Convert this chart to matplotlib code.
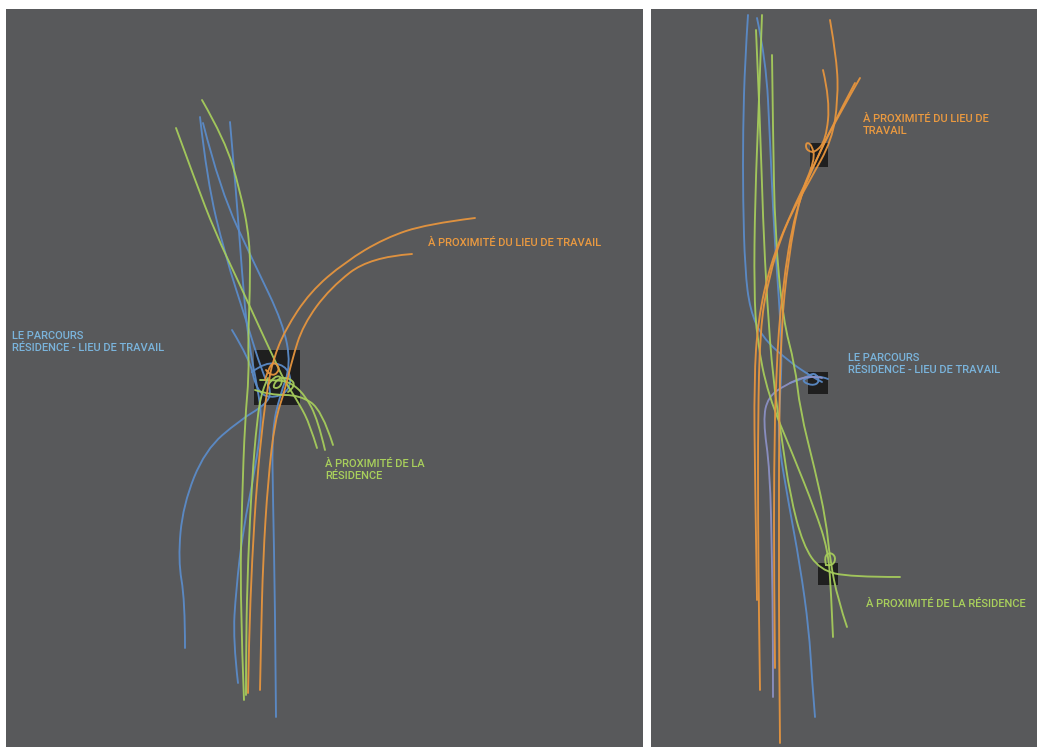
import matplotlib
matplotlib.use("Agg")
import matplotlib.pyplot as plt
from matplotlib.path import Path
from matplotlib.patches import PathPatch, Rectangle
import numpy as np

# colours
BG = "#58595b"
SQUARE = "#1f1f1f"
BLUE = "#5b8bc8"
PURPLE = "#8b90c4"
GREEN = "#a6cc5c"
ORANGE = "#e6953e"
TXT_BLUE = "#7ab4dc"
TXT_GREEN = "#a9d05c"
TXT_ORANGE = "#eb9a40"

# ---- left panel trajectories (image pixel coordinates) ----
left_blue = [
    [(200, 117), (207, 180), (225, 255), (247, 323), (262, 372), (272, 392), (265, 405),
     (240, 420), (205, 450), (183, 505), (178, 560), (185, 600), (185, 648)],
    [(230, 122), (236, 190), (242, 273), (248, 340), (258, 390), (262, 420), (255, 470),
     (243, 530), (236, 590), (233, 640), (238, 683)],
    [(203, 123), (220, 190), (255, 265), (283, 323), (291, 365), (280, 395), (272, 430),
     (273, 500), (275, 600), (276, 717)],
    [(232, 330), (250, 360), (255, 385), (265, 398), (285, 395), (292, 380), (285, 365),
     (265, 362), (252, 372)],
]
left_green = [
    [(176, 128), (195, 180), (215, 232), (240, 285), (262, 333), (277, 365), (284, 380),
     (300, 405), (310, 425), (317, 448)],
    [(202, 100), (225, 140), (240, 190), (250, 240), (250, 290), (248, 340), (249, 375),
     (245, 420), (242, 500), (240, 600), (244, 700)],
    [(260, 380), (275, 380), (290, 382), (305, 395), (318, 420), (325, 450)],
    [(255, 390), (270, 395), (300, 395), (322, 410), (333, 445)],
    [(268, 385), (275, 375), (283, 378), (280, 388), (272, 388), (278, 378), (290, 378),
     (296, 386), (288, 392)],
    [(268, 378), (262, 390), (257, 420), (252, 480), (248, 560), (246, 640), (246, 695)],
]
left_orange = [
    [(475, 218), (427, 224), (385, 238), (345, 262), (310, 292), (285, 330), (273, 360),
     (268, 385), (263, 420), (257, 480), (252, 560), (249, 640), (248, 693)],
    [(412, 254), (370, 257), (330, 288), (303, 325), (292, 360), (285, 390), (275, 420),
     (268, 480), (263, 560), (261, 640), (260, 690)],
    [(265, 380), (268, 370), (273, 362), (279, 366), (278, 373), (271, 376), (266, 370)],
]
left_squares = [(254, 350, 46, 55)]

# ---- right panel trajectories ----
right_blue = [
    [(748, 15), (745, 60), (743, 130), (743, 200), (745, 270), (750, 310), (762, 337),
     (787, 360), (812, 377), (822, 382)],
    [(757, 18), (766, 60), (770, 140), (774, 230), (779, 300), (782, 350), (780, 400),
     (778, 440), (788, 500), (800, 565), (809, 630), (812, 680), (815, 717)],
    [(790, 383), (805, 378), (815, 372), (820, 382), (812, 386), (800, 380), (818, 375),
     (828, 379)],
]
right_purple = [
    [(822, 378), (808, 375), (785, 385), (768, 397), (763, 420), (770, 470), (772, 560),
     (773, 640), (773, 697)],
]
right_green = [
    [(762, 15), (759, 100), (755, 200), (754, 290), (757, 340), (768, 395), (793, 455),
     (815, 510), (828, 550), (831, 590), (833, 637)],
    [(772, 55), (773, 133), (775, 233), (783, 320), (795, 365), (800, 410), (815, 470),
     (826, 520), (830, 560), (838, 600), (847, 627)],
    [(756, 30), (760, 120), (763, 220), (767, 300), (773, 380), (782, 440), (790, 495),
     (803, 545), (820, 570), (850, 577), (900, 577)],
    [(826, 565), (824, 557), (830, 552), (836, 557), (833, 566), (826, 565)],
]
right_orange = [
    [(830, 20), (837, 60), (838, 100), (832, 140), (810, 180), (785, 225), (768, 280),
     (760, 330), (758, 420), (758, 520), (759, 620), (760, 690)],
    [(823, 70), (830, 100), (826, 140), (815, 153), (806, 150), (806, 142), (812, 145),
     (815, 160), (800, 195), (788, 260), (781, 330), (779, 430), (779, 540), (779, 650),
     (780, 743)],
    [(860, 78), (840, 113), (818, 155), (795, 210), (782, 290), (776, 370), (774, 470),
     (774, 570), (775, 668)],
    [(855, 83), (830, 130), (812, 170), (790, 215), (770, 265), (758, 320), (754, 380),
     (755, 480), (757, 600)],
]
right_squares = [(810, 143, 18, 24), (808, 372, 20, 22), (818, 563, 20, 22)]

# labels: (text, x, y, colour)
left_labels = [
    ("LE PARCOURS\nRÉSIDENCE - LIEU DE TRAVAIL", 12, 342, TXT_BLUE),
    ("À PROXIMITÉ DU LIEU DE TRAVAIL", 428, 243, TXT_ORANGE),
    ("À PROXIMITÉ DE LA\nRÉSIDENCE", 325, 470, TXT_GREEN),
]
right_labels = [
    ("À PROXIMITÉ DU LIEU DE\nTRAVAIL", 863, 125, TXT_ORANGE),
    ("LE PARCOURS\nRÉSIDENCE - LIEU DE TRAVAIL", 848, 364, TXT_BLUE),
    ("À PROXIMITÉ DE LA RÉSIDENCE", 866, 604, TXT_GREEN),
]


def smooth_path(pts):
    """Quadratic bezier through midpoints of the control polygon."""
    pts = np.asarray(pts, dtype=float)
    verts = [pts[0]]
    codes = [Path.MOVETO]
    n = len(pts)
    if n == 2:
        verts.append(pts[1])
        codes.append(Path.LINETO)
        return Path(verts, codes)
    for i in range(1, n - 1):
        end = (pts[i] + pts[i + 1]) / 2 if i < n - 2 else pts[n - 1]
        verts += [pts[i], end]
        codes += [Path.CURVE3, Path.CURVE3]
    return Path(verts, codes)


def draw_panel(ax, groups, squares, labels):
    for (x, y, w, h) in squares:
        ax.add_patch(Rectangle((x, y), w, h, facecolor=SQUARE, edgecolor="none", zorder=1))
    for lines, color in groups:
        for pts in lines:
            ax.add_patch(PathPatch(smooth_path(pts), facecolor="none", edgecolor=color,
                                   lw=1.35, alpha=0.95, capstyle="round", zorder=2))
    for text, x, y, color in labels:
        ax.text(x, y, text, color=color, fontsize=8.05, ha="left", va="center",
                linespacing=1.35, family=["Roboto", "DejaVu Sans"], fontweight="medium",
                zorder=3)


W, H = 1037, 747
fig = plt.figure(figsize=(W / 100, H / 100), dpi=100, facecolor="white")

# left panel spans x 6..643, y 9..747 ; right panel x 651..1037
ax_l = fig.add_axes([6 / W, 0, (643 - 6) / W, (H - 9) / H])
ax_r = fig.add_axes([651 / W, 0, (W - 651) / W, (H - 9) / H])
for ax, x0, x1 in [(ax_l, 6, 643), (ax_r, 651, W)]:
    ax.set_facecolor(BG)
    ax.set_xlim(x0, x1)
    ax.set_ylim(H, 9)
    ax.set_xticks([])
    ax.set_yticks([])
    for s in ax.spines.values():
        s.set_visible(False)

draw_panel(ax_l, [(left_blue, BLUE), (left_green, GREEN), (left_orange, ORANGE)],
           left_squares, left_labels)
draw_panel(ax_r, [(right_blue, BLUE), (right_purple, PURPLE), (right_green, GREEN),
                  (right_orange, ORANGE)], right_squares, right_labels)

fig.savefig("out.png", dpi=100, facecolor="white")
plt.close(fig)
